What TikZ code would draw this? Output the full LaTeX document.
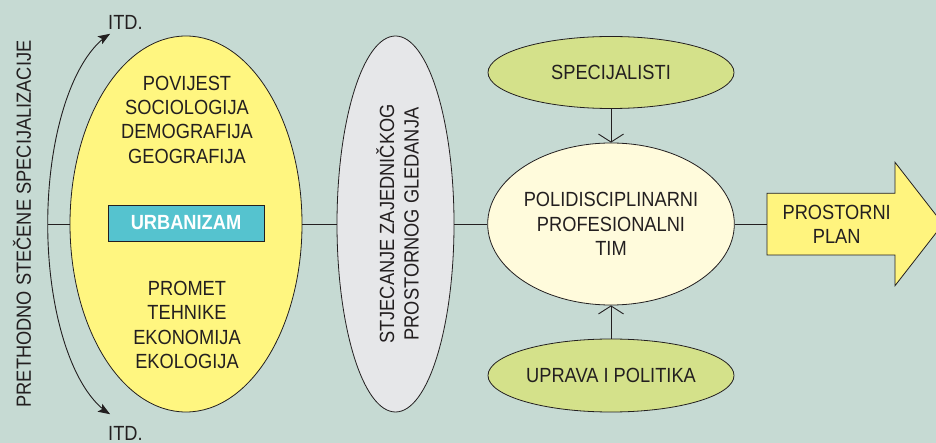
\documentclass[tikz,border=0pt]{standalone}
\usepackage{fontspec}
\setmainfont[FakeStretch=0.89]{Liberation Sans}
\usetikzlibrary{arrows.meta,shapes.geometric}

\definecolor{bg}{RGB}{198,218,211}
\definecolor{ink}{RGB}{35,31,32}
\definecolor{yel}{RGB}{255,246,128}
\definecolor{tealbox}{RGB}{85,195,207}
\definecolor{paleg}{RGB}{230,231,233}
\definecolor{cream}{RGB}{255,251,220}
\definecolor{leaf}{RGB}{212,225,138}
\definecolor{arrowyel}{RGB}{255,244,126}

\begin{document}
\begin{tikzpicture}[x=1pt,y=-1pt,
  every node/.style={font=\fontsize{20.5}{24.3}\selectfont, text=ink},
  oval/.style={ellipse, draw=ink, line width=0.8pt, inner sep=0pt},
  link/.style={draw=ink, line width=0.9pt},
  feed/.style={link, -{Straight Barb[length=8pt,width=25pt]}},
  bothtips/.style={>={Stealth[length=12pt,width=9pt,inset=2.5pt]}, <->}]

% canvas
\fill[bg] (0,0) rectangle (936,443);
\useasboundingbox (0,0) rectangle (936,443);
\clip (0,0) rectangle (936,443);

% prior specialisations
\node[rotate=90, inner sep=0pt] (prior) at (22,224) {PRETHODNO STEČENE SPECIJALIZACIJE};
\draw[link, bothtips, domain=76:-76, samples=80, smooth]
  plot ({130-82.3*cos(\x)},{224-196*sin(\x)});
\coordinate (hub) at (47.7,224);
\node[anchor=base west, inner sep=0pt] (itdtop) at (108,29.5) {ITD.};
\node[anchor=base west, inner sep=0pt] (itdbot) at (108,440.5) {ITD.};

% disciplines
\node[oval, fill=yel, minimum width=232pt, minimum height=376pt] (fields) at (186,224) {};
\node[align=center] (upper) at (187,119.7) {POVIJEST\\SOCIOLOGIJA\\DEMOGRAFIJA\\GEOGRAFIJA};
\node[fill=tealbox, draw=ink, line width=0.6pt, minimum width=156pt, minimum height=36pt,
      text=white, font=\bfseries\fontsize{20.5}{24.3}\selectfont] (urb) at (186,223) {URBANIZAM};
\node[align=center] (lower) at (187,324.8) {PROMET\\TEHNIKE\\EKONOMIJA\\EKOLOGIJA};
\draw[link] (hub) -- (fields.west);

% common spatial view
\node[oval, fill=paleg, minimum width=117pt, minimum height=376pt] (shared) at (395.5,224) {};
\node[rotate=90, align=center, inner sep=0pt] (sharedtxt) at (397.5,224)
  {STJECANJE ZAJEDNIČKOG\\PROSTORNOG GLEDANJA};
\draw[link] (fields.east) -- (shared.west);

% team
\node[oval, fill=cream, minimum width=246pt, minimum height=162pt, align=center] (team) at (611,224)
  {POLIDISCIPLINARNI\\PROFESIONALNI\\TIM};
\node[oval, fill=leaf, minimum width=246pt, minimum height=72pt] (spec) at (611,72.5) {SPECIJALISTI};
\node[oval, fill=leaf, minimum width=246pt, minimum height=73pt] (gov) at (611,375.5) {UPRAVA I POLITIKA};
\draw[link] (shared.east) -- (team.west);
\draw[feed] (spec) -- (team);
\draw[feed] (gov) -- (team);

% spatial plan
\coordinate (tail) at (767,224);
\draw[ink, line width=0.8pt, fill=arrowyel]
  (767,193.3) -- (895,193.3) -- (895,162.3) -- (943,224) -- (895,285.7) -- (895,255) -- (767,255) -- cycle;
\node[align=center] (plan) at (836.7,224) {PROSTORNI\\PLAN};
\draw[link] (team.east) -- (tail);
\end{tikzpicture}
\end{document}
